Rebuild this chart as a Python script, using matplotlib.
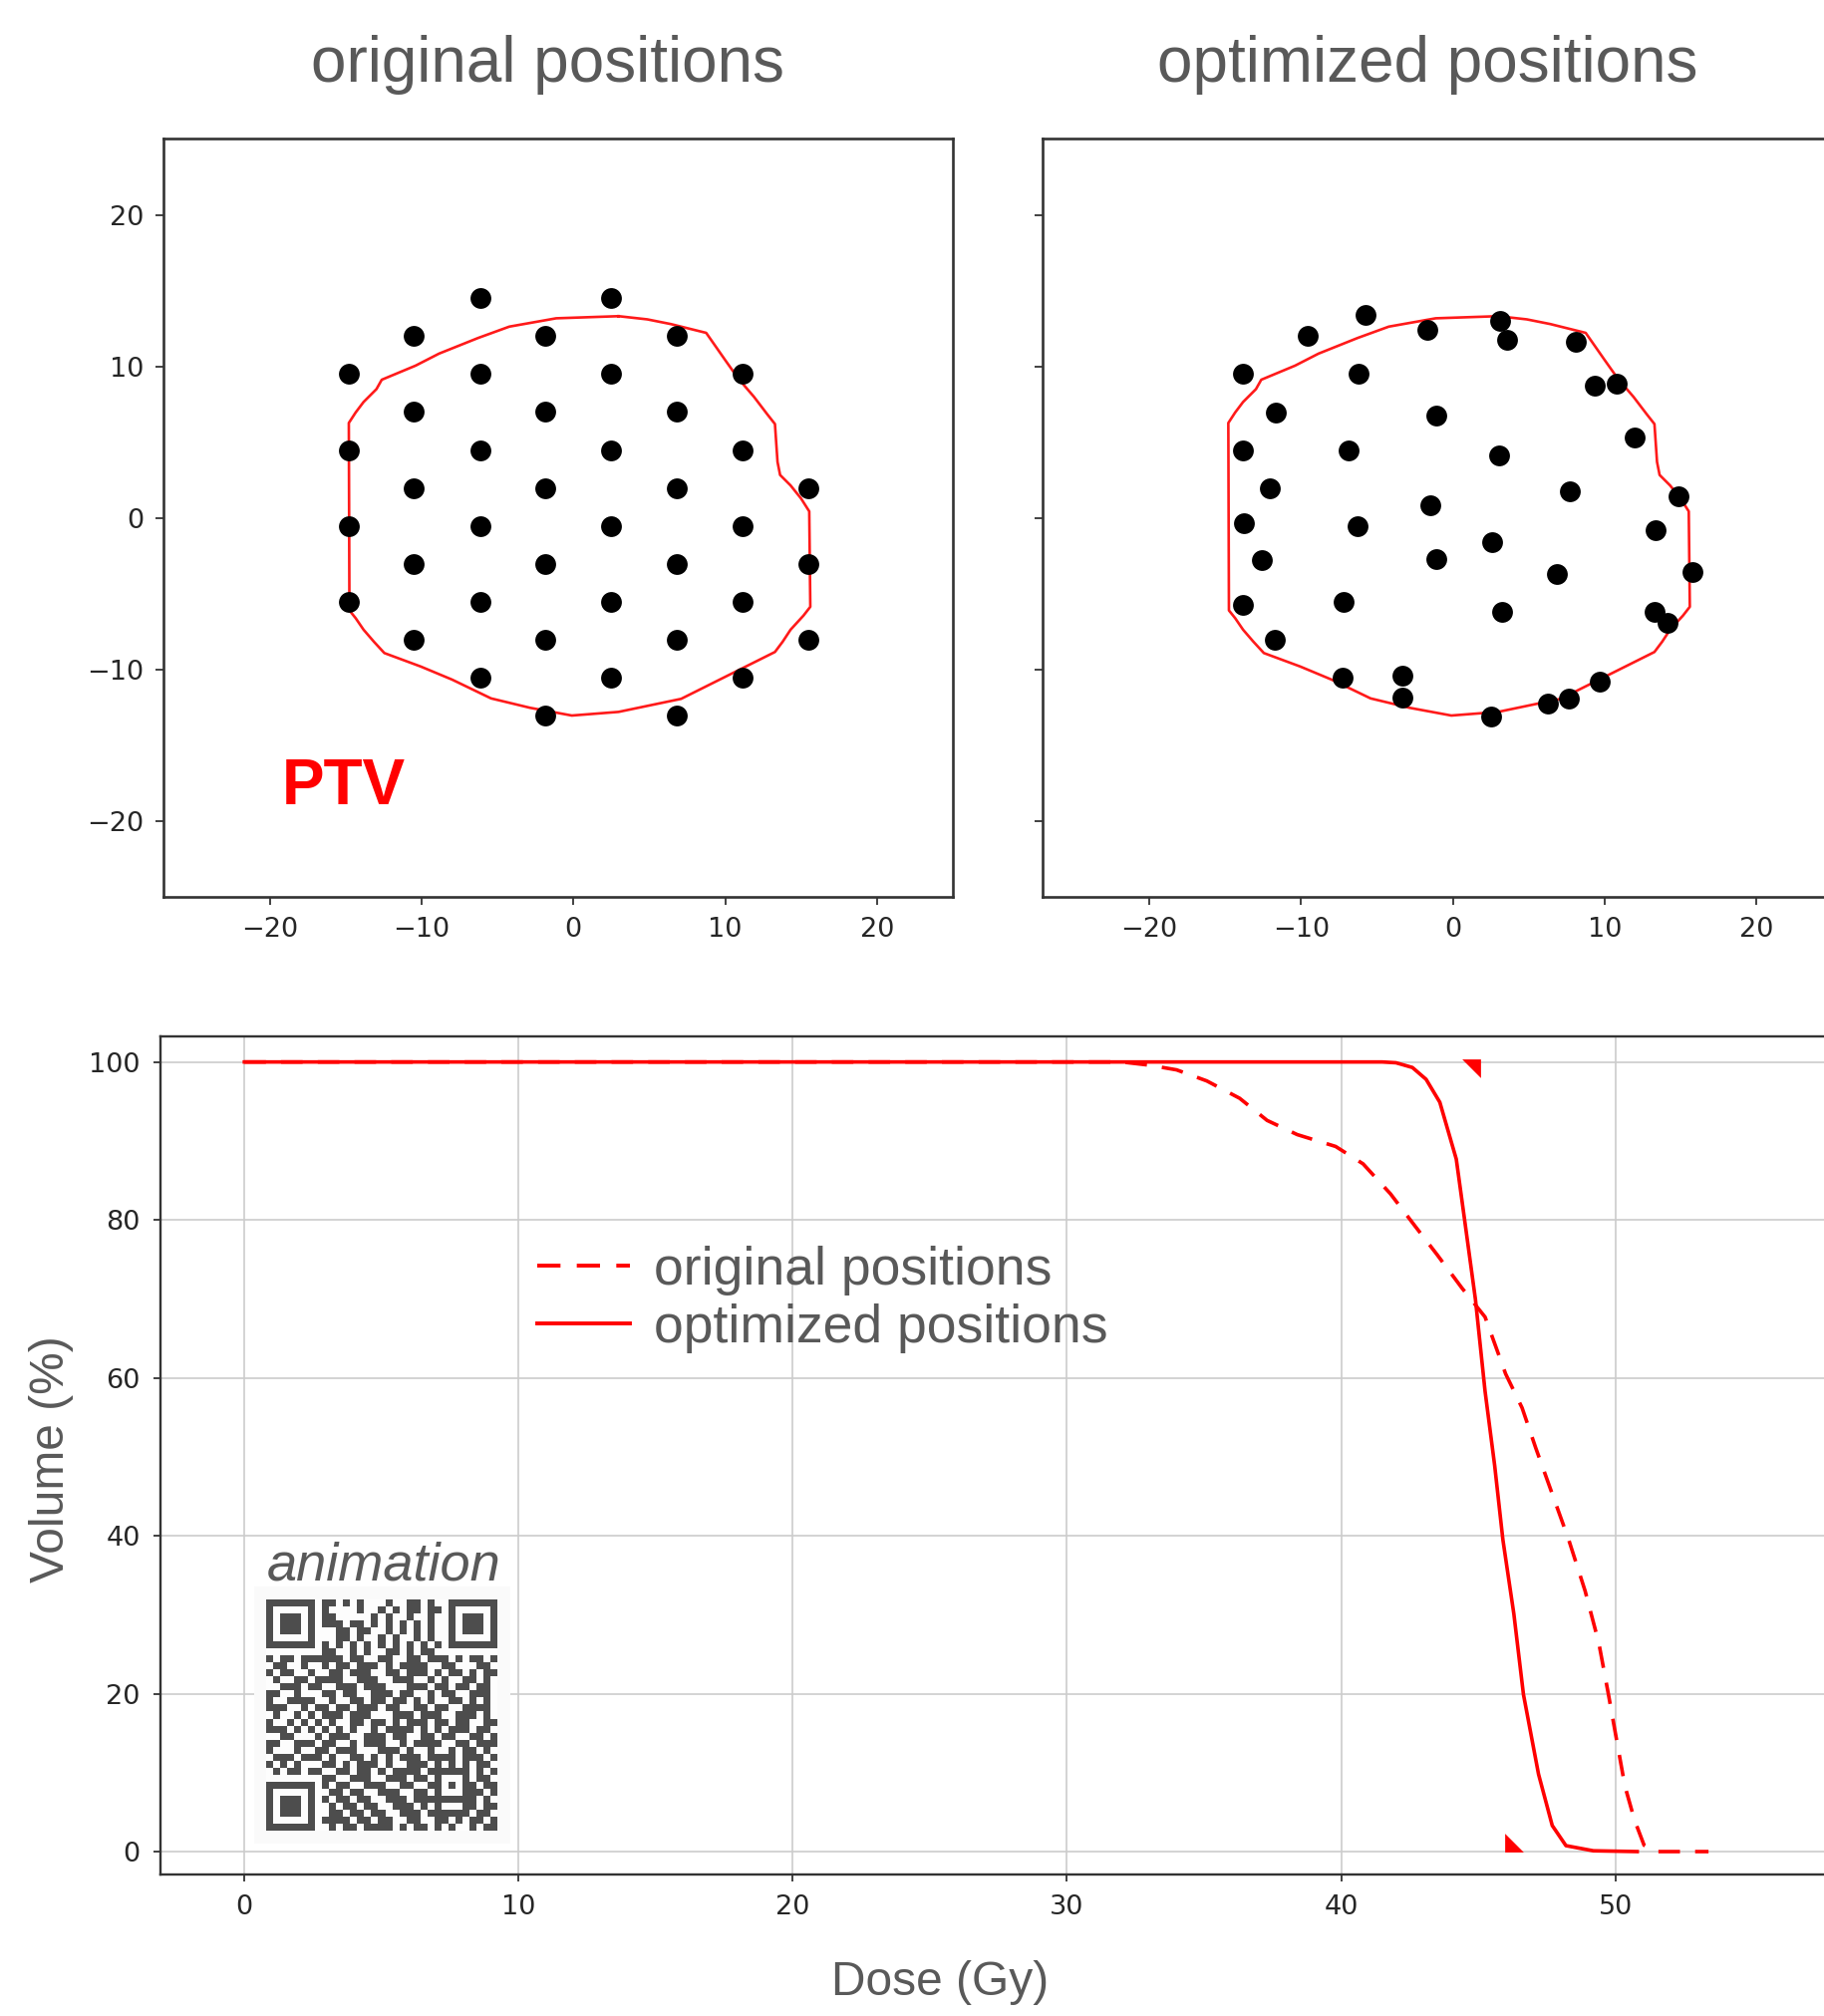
import numpy as np
import matplotlib
matplotlib.use("Agg")
import matplotlib.pyplot as plt
from matplotlib.colors import ListedColormap
from matplotlib.lines import Line2D

# ---------------- data ----------------
# original (hexagonal) source positions
orig_x = [-6.15, 2.5,
          -10.5, -1.85, 6.8,
          -14.8, -6.15, 2.5, 11.15,
          -10.5, -1.85, 6.8,
          -14.8, -6.15, 2.5, 11.15,
          -10.5, -1.85, 6.8, 15.5,
          -14.8, -6.15, 2.5, 11.15,
          -10.5, -1.85, 6.8, 15.5,
          -14.8, -6.15, 2.5, 11.15,
          -10.5, -1.85, 6.8, 15.5,
          -6.15, 2.5, 11.15,
          -1.85, 6.8]
orig_y = [14.5, 14.5,
          12.0, 12.0, 12.0,
          9.5, 9.5, 9.5, 9.5,
          7.0, 7.0, 7.0,
          4.5, 4.5, 4.5, 4.5,
          2.0, 2.0, 2.0, 2.0,
          -0.5, -0.5, -0.5, -0.5,
          -3.0, -3.0, -3.0, -3.0,
          -5.5, -5.5, -5.5, -5.5,
          -8.0, -8.0, -8.0, -8.0,
          -10.5, -10.5, -10.5,
          -13.0, -13.0]

# optimized source positions
opt_x = [-5.77, -9.55, -1.68, 3.08, 3.59, 8.08, -13.85, -6.20, 9.32, 10.79,
         -11.67, -1.07, 12.00, -13.81, -6.84, 3.05, -12.07, 7.68, 14.85, -1.48,
         -13.74, -6.30, 13.38, 2.58, -12.57, -1.07, 6.84, 15.79, -13.85, -7.17,
         3.25, 13.28, 14.15, -11.70, -7.24, -3.35, -3.35, 2.51, 6.24, 7.64, 9.65]
opt_y = [13.39, 12.05, 12.39, 12.98, 11.74, 11.60, 9.51, 9.51, 8.72, 8.86,
         6.97, 6.76, 5.32, 4.46, 4.46, 4.15, 1.99, 1.79, 1.44, 0.86,
         -0.34, -0.51, -0.82, -1.58, -2.78, -2.71, -3.71, -3.57, -5.73, -5.49,
         -6.18, -6.18, -6.87, -8.03, -10.50, -10.37, -11.81, -13.05, -12.19, -11.91, -10.78]

# PTV contour
ptv_x = [2.98, -1.13, -4.22, -6.28, -8.85, -10.39, -12.62, -12.97, -13.82, -14.34,
         -14.79, -14.75, -14.34, -13.82, -13.14, -12.45, -10.05, -7.99, -5.42, -2.85,
         -0.10, 2.98, 7.10, 9.16, 11.22, 13.28, 13.79, 14.31, 15.16, 15.61,
         15.54, 15.00, 14.31, 13.62, 13.45, 13.28, 12.76, 11.90, 10.87, 10.02,
         8.75, 6.42, 4.87, 2.98]
ptv_y = [13.32, 13.18, 12.63, 11.88, 10.85, 10.06, 9.13, 8.51, 7.66, 6.97,
         6.28, -6.08, -6.59, -7.35, -8.14, -8.89, -9.78, -10.64, -11.88, -12.50,
         -13.01, -12.77, -11.91, -10.88, -9.85, -8.82, -8.14, -7.35, -6.42, -5.84,
         0.45, 1.30, 2.16, 2.85, 3.71, 6.21, 6.87, 8.00, 9.20, 10.40,
         12.22, 12.80, 13.11, 13.32]

# DVH curves
dose_orig = [0, 32.0, 33.0, 34.0, 35.1, 36.3, 37.3, 38.4, 39.8, 40.8, 41.8, 42.7,
             43.5, 44.4, 45.25, 46.0, 46.6, 47.1, 47.7, 48.3, 48.9, 49.4, 49.75,
             50.05, 50.35, 50.7, 51.05, 51.4, 53.4]
vol_orig = [100, 100, 99.6, 99.0, 97.6, 95.4, 92.6, 90.8, 89.3, 87.1, 83.3, 79.2,
            75.6, 71.4, 67.7, 60.5, 56.2, 51.1, 45.3, 39.5, 33.0, 26.4, 19.9,
            14.1, 8.3, 4.0, 0.8, 0, 0]
dose_opt = [0, 41.5, 42.0, 42.6, 43.1, 43.6, 44.2, 44.5, 44.9, 45.25, 45.6, 45.9,
            46.3, 46.65, 47.2, 47.7, 48.2, 49.2, 50.8]
vol_opt = [100, 100, 99.9, 99.3, 97.8, 94.9, 87.7, 80.1, 69.9, 58.3, 48.9, 39.5,
           30.1, 19.9, 9.8, 3.3, 0.75, 0.1, 0]

# small triangle markers on the DVH plot
marker_dose = [44.73, 46.3]
marker_vol = [99.2, 1.1]

pos_ticks = [-20, -10, 0, 10, 20]
dose_ticks = [0, 10, 20, 30, 40, 50]
vol_ticks = [0, 20, 40, 60, 80, 100]

titles = ["original positions", "optimized positions"]
legend_labels = ["original positions", "optimized positions"]

# QR code modules (33 x 33), finder/alignment patterns stamped below
qr_rows = [
    "111111101101010001001101001111111",
    "100000101000010010101101101000001",
    "101110101100000101001001001011101",
    "101110101110110101010101001011101",
    "101110100011011001010101001011101",
    "100000100011010010100101001000001",
    "111111101010101010101010101111111",
    "000000001100101001101011000000000",
    "101101111110110011001101110101101",
    "011001001011011101011110011000110",
    "101100100110111001101110101101011",
    "010011011110011100111001010011010",
    "001110110011101110001110110110110",
    "110010001101100111011001011001110",
    "100111100100110110110101001101010",
    "111001011011011101100110110011110",
    "010010101110111000111011100111010",
    "100101010100110110101110110110011",
    "111010101010100101111010101110110",
    "001100010111001110110011011001101",
    "110011101100101110010111100110111",
    "100010011011100011101001001011010",
    "011101110100110101011101111011101",
    "101010001101011101001110101010110",
    "010110110011011010111101111110101",
    "000000001100111001110110101110110",
    "111111101011001110011001111111011",
    "100000100110110011100110100011101",
    "101110101011011001110111101011010",
    "101110100101101100111010100011011",
    "101110100110110110011101111110110",
    "100000101111011011001100110101101",
    "111111100101101111010110101001011",
]

# ---------------- figure ----------------
W, H = 1831, 2023
fig = plt.figure(figsize=(W / 100, H / 100), dpi=100)

grey_txt = "#595959"
tick_col = "#262626"
spine_col = "#333333"
sans = ["Liberation Sans", "DejaVu Sans"]
red = "#ff0000"


def px_axes(left, top, width, height):
    return fig.add_axes([left / W, 1 - (top + height) / H, width / W, height / H])


ax1 = px_axes(164, 139.5, 792, 761)
ax2 = px_axes(1046.4, 139.5, 792, 761)

for ax, xs, ys in [(ax1, orig_x, orig_y), (ax2, opt_x, opt_y)]:
    ax.plot(ptv_x, ptv_y, color="#ff1a1a", lw=1.9, zorder=2)
    ax.plot(xs, ys, "o", color="black", ms=15, mec="none", zorder=3)
    ax.set_xlim(-27, 25)
    ax.set_ylim(-25, 25)
    ax.set_xticks(pos_ticks)
    ax.set_yticks(pos_ticks)
    ax.tick_params(direction="out", length=5.5, width=1.3, colors=spine_col,
                   labelcolor=tick_col, labelsize=19.5, pad=8.5)
    for s in ax.spines.values():
        s.set_color(spine_col)
        s.set_linewidth(1.9)
ax2.tick_params(labelleft=False)

ax1.text(-19.2, -18.85, "PTV", color=red, fontsize=46, fontweight="bold",
         family=sans, ha="left", va="baseline")

fig.text(549 / W, 1 - 81.7 / H, titles[0], ha="center", va="baseline",
         fontsize=46, color=grey_txt, family=sans)
fig.text(1432 / W, 1 - 81.7 / H, titles[1], ha="center", va="baseline",
         fontsize=46, color=grey_txt, family=sans)

# DVH axes
ax3 = px_axes(161, 1040.3, 1734.7, 841.0)
dash = (0, (6.0, 4.2))
ax3.plot(dose_orig, vol_orig, color=red, lw=2.6, linestyle=dash, zorder=3)
ax3.plot(dose_opt, vol_opt, color=red, lw=2.6, zorder=3)

tri_a = [(-1, 1), (1, 1), (1, -1), (-1, 1)]
tri_b = [(-1, 1), (-1, -1), (1, -1), (-1, 1)]
ax3.plot(marker_dose[:1], marker_vol[:1], linestyle="none", marker=tri_a, ms=13.5,
         color=red, mec="none", zorder=4)
ax3.plot(marker_dose[1:], marker_vol[1:], linestyle="none", marker=tri_b, ms=13.5,
         color=red, mec="none", zorder=4)

ax3.set_xlim(-3.06, 60)
ax3.set_ylim(-2.94, 103.2)
ax3.set_xticks(dose_ticks)
ax3.set_yticks(vol_ticks)
ax3.grid(True, color="#cccccc", lw=1.2)
ax3.set_axisbelow(True)
ax3.tick_params(direction="out", length=5, width=1.3, colors=spine_col,
                labelcolor=tick_col, labelsize=19.5, pad=9.5)
for s in ax3.spines.values():
    s.set_color(spine_col)
    s.set_linewidth(1.7)

handles = [Line2D([], [], color=red, lw=2.8, linestyle=dash),
           Line2D([], [], color=red, lw=2.8)]
ax3.legend(handles, legend_labels, loc="upper left",
           bbox_to_anchor=(539 / W, 1 - 1250 / H), bbox_transform=fig.transFigure,
           frameon=False, prop={"family": sans, "size": 38.5}, labelcolor=grey_txt,
           handlelength=1.74, handletextpad=0.44, labelspacing=0.15,
           borderpad=0, borderaxespad=0)

fig.text(943 / W, 1 - 1990 / H, "Dose (Gy)", ha="center", va="center",
         fontsize=34.5, color=grey_txt, family=sans)
fig.text(51.6 / W, 1 - 1464.5 / H, "Volume (%)", ha="center", va="center",
         rotation=90, fontsize=34.5, color=grey_txt, family=sans)

# animation + QR
fig.text(268 / W, 1 - 1585 / H, "animation", ha="left", va="baseline",
         fontsize=39, style="italic", color=grey_txt, family=sans)

bg = px_axes(255, 1592, 257, 258)
bg.set_facecolor("#fafafa")
bg.set_xticks([])
bg.set_yticks([])
for s in bg.spines.values():
    s.set_visible(False)

qr = np.array([[int(ch) for ch in row] for row in qr_rows])
n = qr.shape[0]


def stamp(r0, c0, size):
    for r in range(size):
        for c in range(size):
            edge = r in (0, size - 1) or c in (0, size - 1)
            inner = 2 <= r <= size - 3 and 2 <= c <= size - 3
            qr[r0 + r, c0 + c] = 1 if (edge or inner) else 0


for (r0, c0) in [(0, 0), (0, n - 7), (n - 7, 0)]:
    stamp(r0, c0, 7)
# separators
qr[7, 0:8] = 0; qr[0:8, 7] = 0
qr[7, n - 8:] = 0; qr[0:8, n - 8] = 0
qr[n - 8, 0:8] = 0; qr[n - 8:, 7] = 0
# alignment
stamp(24, 24, 5)
qr[26, 26] = 1

qax = px_axes(267, 1605, 232, 232)
qax.imshow(qr, cmap=ListedColormap(["#fdfdfd", "#4d4d4d"]), interpolation="nearest",
           aspect="auto")
qax.set_xticks([])
qax.set_yticks([])
for s in qax.spines.values():
    s.set_visible(False)

fig.savefig("out.png", dpi=100, facecolor="white")
